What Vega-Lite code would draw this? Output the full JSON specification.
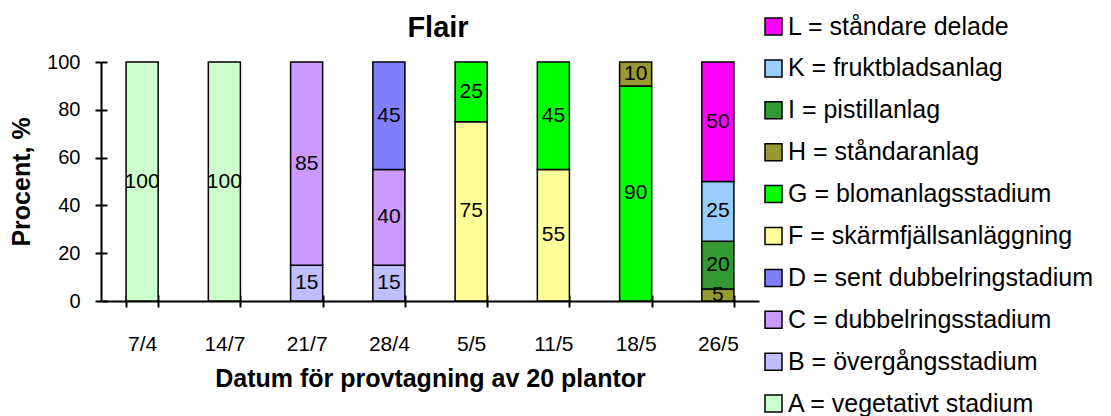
{
  "$schema": "https://vega.github.io/schema/vega-lite/v6.json",
  "autosize": {"type": "none"},
  "padding": {"left": 101, "top": 62, "right": 352, "bottom": 115},
  "width": 658,
  "height": 239,
  "background": "white",
  "title": {
    "text": "Flair",
    "font": "Liberation Sans",
    "fontSize": 29,
    "fontWeight": "bold",
    "color": "black",
    "anchor": "middle",
    "dx": 8,
    "offset": -29
  },
  "config": {
    "view": {"stroke": null},
    "font": "Liberation Sans",
    "axisX": {"labelFontSize": 21}
  },
  "data": {
    "values": [
      {"datum": "7/4", "kod": "A", "stadium": "A = vegetativt stadium", "procent": 100},
      {"datum": "14/7", "kod": "A", "stadium": "A = vegetativt stadium", "procent": 100},
      {"datum": "21/7", "kod": "B", "stadium": "B = övergångsstadium", "procent": 15},
      {"datum": "21/7", "kod": "C", "stadium": "C = dubbelringsstadium", "procent": 85},
      {"datum": "28/4", "kod": "B", "stadium": "B = övergångsstadium", "procent": 15},
      {"datum": "28/4", "kod": "C", "stadium": "C = dubbelringsstadium", "procent": 40},
      {"datum": "28/4", "kod": "D", "stadium": "D = sent dubbelringstadium", "procent": 45},
      {"datum": "5/5", "kod": "F", "stadium": "F = skärmfjällsanläggning", "procent": 75},
      {"datum": "5/5", "kod": "G", "stadium": "G = blomanlagsstadium", "procent": 25},
      {"datum": "11/5", "kod": "F", "stadium": "F = skärmfjällsanläggning", "procent": 55},
      {"datum": "11/5", "kod": "G", "stadium": "G = blomanlagsstadium", "procent": 45},
      {"datum": "18/5", "kod": "G", "stadium": "G = blomanlagsstadium", "procent": 90},
      {"datum": "18/5", "kod": "H", "stadium": "H = ståndaranlag", "procent": 10},
      {"datum": "26/5", "kod": "H", "stadium": "H = ståndaranlag", "procent": 5},
      {"datum": "26/5", "kod": "I", "stadium": "I = pistillanlag", "procent": 20},
      {"datum": "26/5", "kod": "K", "stadium": "K = fruktbladsanlag", "procent": 25},
      {"datum": "26/5", "kod": "L", "stadium": "L = ståndare delade", "procent": 50}
    ]
  },
  "resolve": {"axis": {"x": "independent", "y": "independent"}},
  "layer": [
    {
      "mark": {"type": "bar", "stroke": "black", "strokeWidth": 1.5},
      "encoding": {
        "x": {
          "field": "datum",
          "type": "ordinal",
          "sort": ["7/4", "14/7", "21/7", "28/4", "5/5", "11/5", "18/5", "26/5"],
          "scale": {"paddingInner": 0.61, "paddingOuter": 0.305},
          "axis": {
            "title": "Datum för provtagning av 20 plantor",
            "titleFont": "Liberation Sans",
            "titleFontSize": 25,
            "titleFontWeight": "bold",
            "titleColor": "black",
            "titleBaseline": "middle",
            "titleY": 77,
            "labelAngle": 0,
            "labelFont": "Liberation Sans",
            "labelFontSize": 21,
            "labelColor": "black",
            "labelPadding": 26,
            "labelLimit": 0,
            "tickBand": "extent",
            "tickSize": 6,
            "tickWidth": 2,
            "tickColor": "black",
            "domainColor": "black",
            "domainWidth": 2,
            "grid": false
          }
        },
        "y": {
          "field": "procent",
          "type": "quantitative",
          "stack": "zero",
          "scale": {"domain": [0, 100], "nice": false},
          "axis": {
            "title": "Procent, %",
            "titleFont": "Liberation Sans",
            "titleFontSize": 25,
            "titleFontWeight": "bold",
            "titleColor": "black",
            "titleAngle": -90,
            "titleAlign": "center",
            "titleBaseline": "middle",
            "titleX": -80,
            "titleY": 119.5,
            "values": [0, 20, 40, 60, 80, 100],
            "labelFont": "Liberation Sans",
            "labelFontSize": 20,
            "labelColor": "black",
            "labelPadding": 15,
            "tickSize": 6,
            "tickWidth": 2,
            "tickColor": "black",
            "domainColor": "black",
            "domainWidth": 2,
            "grid": false
          }
        },
        "color": {
          "field": "stadium",
          "type": "nominal",
          "scale": {
            "domain": [
              "L = ståndare delade",
              "K = fruktbladsanlag",
              "I = pistillanlag",
              "H = ståndaranlag",
              "G = blomanlagsstadium",
              "F = skärmfjällsanläggning",
              "D = sent dubbelringstadium",
              "C = dubbelringsstadium",
              "B = övergångsstadium",
              "A = vegetativt stadium"
            ],
            "range": ["#FF00FF", "#99CCFF", "#339933", "#999933", "#00FF00", "#FFFF99", "#8080FF", "#CC99FF", "#BFBFFF", "#CCFFCC"]
          },
          "legend": {
            "title": null,
            "orient": "none",
            "legendX": 660,
            "legendY": -48,
            "padding": 0,
            "symbolType": "square",
            "symbolSize": 289,
            "symbolStrokeColor": "black",
            "symbolStrokeWidth": 1.5,
            "symbolOpacity": 1,
            "labelFont": "Liberation Sans",
            "labelFontSize": 25,
            "labelColor": "black",
            "labelOffset": 2,
            "labelLimit": 500,
            "rowPadding": 15.9
          }
        },
        "order": {"field": "kod", "type": "nominal", "sort": "ascending"}
      }
    },
    {
      "mark": {"type": "text", "font": "Liberation Sans", "fontSize": 21, "color": "black", "align": "center", "baseline": "middle"},
      "encoding": {
        "x": {
          "field": "datum",
          "type": "ordinal",
          "sort": ["7/4", "14/7", "21/7", "28/4", "5/5", "11/5", "18/5", "26/5"],
          "axis": {
            "orient": "bottom",
            "labels": false,
            "domain": false,
            "title": null,
            "grid": false,
            "tickBand": "extent",
            "tickSize": -6,
            "tickWidth": 2,
            "tickColor": "black"
          }
        },
        "y": {
          "field": "procent",
          "type": "quantitative",
          "stack": "zero",
          "bandPosition": 0.5,
          "axis": {
            "orient": "left",
            "labels": false,
            "domain": false,
            "title": null,
            "grid": false,
            "values": [0, 20, 40, 60, 80, 100],
            "tickSize": -6,
            "tickWidth": 2,
            "tickColor": "black"
          }
        },
        "detail": {"field": "kod", "type": "nominal"},
        "order": {"field": "kod", "type": "nominal", "sort": "ascending"},
        "text": {"field": "procent", "type": "quantitative"}
      }
    }
  ]
}
